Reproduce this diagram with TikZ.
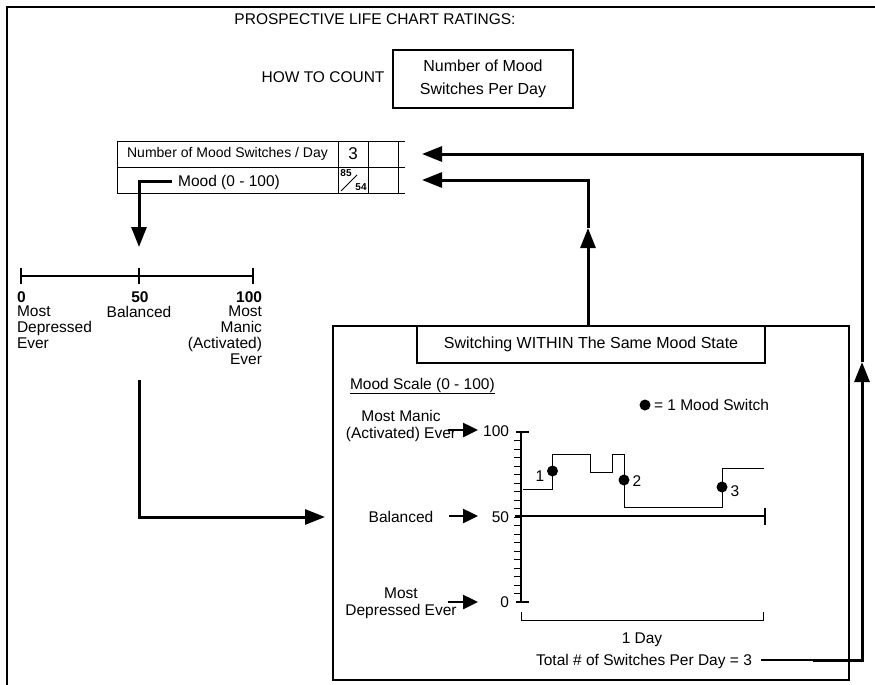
\documentclass[tikz,border=0pt]{standalone}
\usepackage{fontspec}
\setmainfont{Liberation Sans}
\usetikzlibrary{arrows.meta}
\begin{document}
\begin{tikzpicture}[x=1pt,y=-1pt,
  every node/.style={inner sep=0pt, outer sep=0pt},
  font=\fontsize{15.5}{16}\selectfont,
  conn/.style={line width=3pt, line join=miter, -{Triangle[length=20pt,width=15pt]}},
  lblarrow/.style={line width=2.5pt, -{Triangle[length=15pt,width=14pt]}},
  cell/.style={draw, line width=1pt, minimum height=26pt},
  frame/.style={draw, line width=1.2pt},
  dot/.style={circle, fill=black, minimum size=11pt},
  thinline/.style={line width=1pt},
]
\useasboundingbox (0,0) rectangle (875,685);
% outer frame
\draw[line width=2.5pt] (875,7) -- (7,7) -- (7,685);

% header
\node[anchor=base] (title) at (375,25) {PROSPECTIVE LIFE CHART RATINGS:};
\node[anchor=base] (howto) at (323,82) {HOW TO COUNT};
\node[frame, minimum width=180pt, minimum height=58pt, align=center,
      font=\fontsize{16}{23}\selectfont] (countbox) at (483,79) {Number of Mood\\Switches Per Day};

% table
\node[cell, minimum width=221pt] (c1a) at (227.5,154) {};
\node[cell, minimum width=30pt] (c1b) at (353,154) {};
\node[cell, minimum width=30pt] (c1c) at (383,154) {};
\node[cell, minimum width=221pt] (c2a) at (227.5,180) {};
\node[cell, minimum width=30pt] (c2b) at (353,180) {};
\node[cell, minimum width=30pt] (c2c) at (383,180) {};
\draw[thinline] (c1c.north east) -- ++(7,0);
\draw[thinline] (c1c.south east) -- ++(7,0);
\draw[thinline] (c2c.south east) -- ++(7,0);
\node[font=\fontsize{14}{15}\selectfont] (r1txt) at (c1a) {Number of Mood Switches / Day};
\node[font=\fontsize{17}{18}\selectfont] (three) at (c1b) {3};
\node[anchor=base] (moodtxt) at (229,186) {Mood (0 - 100)};
\node[font=\fontsize{10}{10}\selectfont\bfseries] (n85) at (346,173.5) {85};
\node[font=\fontsize{10}{10}\selectfont\bfseries] (n54) at (361,187.5) {54};
\draw[line width=1pt] (341,191) -- (357,175);
\coordinate (in1) at (422,154);
\coordinate (in2) at (422,180);

% left scale
\coordinate (s0) at (21,276);
\coordinate (s50) at (139,276);
\coordinate (s100) at (253,276);
\draw[line width=1.5pt] (s0) -- (s100);
\foreach \p in {s0,s50,s100} \draw[line width=1.5pt] ([yshift=8pt]\p) -- ([yshift=-8pt]\p);
\node[anchor=base west, font=\fontsize{15.5}{16}\selectfont\bfseries] (l0) at (17,302) {0};
\node[anchor=base, font=\fontsize{15.5}{16}\selectfont\bfseries] (l50) at (140,302) {50};
\node[anchor=base east, font=\fontsize{15.5}{16}\selectfont\bfseries] (l100) at (262,302) {100};
\node[anchor=north west, align=left] (ldep) at (17,306) {Most\\Depressed\\Ever};
\node[anchor=north] (lbal) at (139,306) {Balanced};
\node[anchor=north east, align=right] (lman) at (262,306) {Most\\Manic\\(Activated)\\Ever};

\coordinate (sctop) at (139,247);
\coordinate (scbot) at (139,380);
\coordinate (boxin) at (325,517);
\draw[conn] ([xshift=-6pt]moodtxt.west) -| (sctop);
\draw[conn] (scbot) |- (boxin);

% big box
\node[frame, minimum width=516pt, minimum height=354pt] (bigbox) at (591,503) {};
\node[frame, minimum width=348pt, minimum height=37pt, font=\fontsize{16}{17}\selectfont] (sw) at (591,344.5) {Switching WITHIN The Same Mood State};
\node[anchor=base west] (mscale) at (350,389) {\underline{Mood Scale (0 - 100)}};
\node[dot] (legdot) at (645,405) {};
\node[anchor=base west] (legtxt) at (654,410) {= 1 Mood Switch};

% chart labels
\node[align=center, font=\fontsize{15.5}{17}\selectfont] (lmanic) at (401,426) {Most Manic\\(Activated) Ever};
\node (lbalc) at (401,517) {Balanced};
\node[align=center, font=\fontsize{15.5}{17}\selectfont] (ldepc) at (401,603) {Most\\Depressed Ever};
\coordinate (a100) at (478,430);
\coordinate (a50) at (478,516);
\coordinate (a0) at (478,602);
\draw[lblarrow] (448,430) -- (a100);
\draw[lblarrow] (449,516) -- (a50);
\draw[lblarrow] (448,602) -- (a0);
\node[anchor=east] (t100) at (509,431) {100};
\node[anchor=east] (t50) at (509,517) {50};
\node[anchor=east] (t0) at (509,602) {0};

% axis
\draw[line width=2pt] (521,431) -- (521,603);
\draw[line width=1.5pt] (516,432) -- (529,432);
\draw[line width=1.5pt] (516,602) -- (529,602);
\foreach \v in {5,10,...,95} \draw[line width=1pt] (514,602-1.7*\v) -- (521,602-1.7*\v);
% balanced line
\draw[line width=1.8pt] (515,516) -- (765,516);
\draw[line width=1.2pt] (765,508) -- (765,525);
% step curve
\draw[line width=1pt] (523,489) -| (552,454) -| (590,472) -| (612,454) -| (624,507) -| (722,468) -- (764,468);
\node[dot] (d1) at (552.5,471) {};
\node[dot] (d2) at (624,480) {};
\node[dot] (d3) at (722,487) {};
\node[anchor=base] (k1) at (540,481) {1};
\node[anchor=base] (k2) at (637,486) {2};
\node[anchor=base] (k3) at (735,496) {3};
% day bracket
\draw[line width=1pt] (521,612) -- (521,620) -- (763,620) -- (763,612);
\node[anchor=base] (oneday) at (642,643) {1 Day};
\node[anchor=base] (total) at (644,665) {Total \# of Switches Per Day = 3};

% right loop
\coordinate (tl1) at (813,660);
\coordinate (rmid) at (862,362);
\draw[line width=1.5pt] ([xshift=9pt]total.east |- tl1) -- (tl1);
\draw[conn] (tl1) -| (rmid);
\draw[conn] (rmid) |- (in1);
% up arrow from box
\coordinate (upmid) at (588,228);
\draw[conn] (bigbox.north -| upmid) -- (upmid);
\draw[conn] (upmid) |- (in2);
\end{tikzpicture}
\end{document}
